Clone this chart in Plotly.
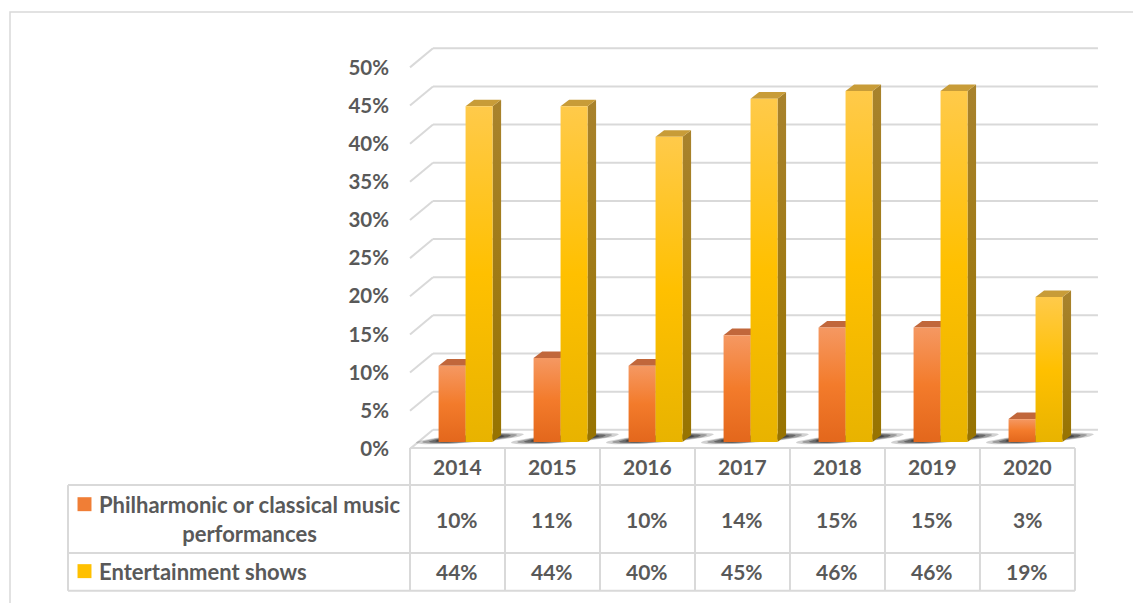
import numpy as np
import plotly.graph_objects as go

# ---- data -------------------------------------------------------------
years = ["2014", "2015", "2016", "2017", "2018", "2019", "2020"]
classical = [10, 11, 10, 14, 15, 15, 3]          # % Philharmonic or classical music performances
entertainment = [44, 44, 40, 45, 46, 46, 19]     # % Entertainment shows
series_labels = ["Philharmonic or classical music<br>performances", "Entertainment shows"]
tick_values = [0, 5, 10, 15, 20, 25, 30, 35, 40, 45, 50]

# ---- canvas / scales ---------------------------------------------------
W, H = 1133, 603
X_RANGE = [-4.816, 7.111]     # category units across the whole canvas
Y_RANGE = [-21.10, 57.93]     # percentage points across the whole canvas

# pseudo-3D geometry (x in category units, y in percentage points)
FRONT_DROP = 0.9      # front edge of the floor lies this far below the bar plane
BACK_RISE = 1.6       # back wall lies this far above the bar plane
WALL_DX = 0.242       # horizontal shift from front edge to back wall
BAR_SHIFT = 0.085     # bar plane offset to the right of the front edge
BAR_W = 0.284
BAR_DX = 0.09         # bar depth, horizontal
BAR_DY = 0.87         # bar depth, vertical

TEXT = "#595959"
GRID = "#D9D9D9"
FONT = "Lato"

styles = [
    dict(front=[[0, "#E3671C"], [0.5, "#F37B2B"], [1, "#F59862"]],
         top="#C1673B", side=[[0, "#A4551A"], [1, "#B0663A"]], key="#F07E36"),
    dict(front=[[0, "#E8B300"], [0.5, "#FFC000"], [1, "#FFCA4A"]],
         top="#C89C38", side=[[0, "#977300"], [1, "#A8822C"]], key="#FFC000"),
]

fig = go.Figure()


def poly(xs, ys, **kw):
    fig.add_trace(go.Scatter(x=list(xs) + [xs[0]], y=list(ys) + [ys[0]], mode="lines",
                             fill="toself", line=dict(width=0), hoverinfo="skip",
                             showlegend=False, **kw))


# back wall grid lines with the diagonal side edges
for v in tick_values:
    fig.add_shape(type="line", xref="x", yref="y",
                  x0=-0.5, y0=v - FRONT_DROP, x1=-0.5 + WALL_DX, y1=v + BACK_RISE,
                  line=dict(color=GRID, width=2), layer="below")
    fig.add_shape(type="line", xref="x", yref="y",
                  x0=-0.5 + WALL_DX, y0=v + BACK_RISE, x1=6.5 + WALL_DX, y1=v + BACK_RISE,
                  line=dict(color=GRID, width=2), layer="below")

# soft floor shadows under each pair of columns
t = np.linspace(0, 2 * np.pi, 48)
for i in range(len(years)):
    left = i + BAR_SHIFT - BAR_W - 0.24
    right = i + BAR_SHIFT + BAR_W + BAR_DX + 0.24
    cx, cy = (left + right) / 2, 0.45
    a = (right - left) / 2
    for scale, alpha in [(1.0, 0.22), (0.88, 0.32), (0.76, 0.45), (0.64, 0.6)]:
        ex = cx + a * scale * np.cos(t)
        ey = cy + np.cos(t) * 0.6 * BAR_DY * scale + 0.55 * scale * np.sin(t)
        poly(ex, ey, fillcolor=f"rgba(45,45,45,{alpha})")

# columns: side, top and front faces
for i in range(len(years)):
    for s, vals in enumerate([classical, entertainment]):
        v = vals[i]
        st = styles[s]
        x0 = i + BAR_SHIFT + (s - 1) * BAR_W
        x1 = x0 + BAR_W
        poly([x1, x1, x1 + BAR_DX, x1 + BAR_DX], [0, v, v + BAR_DY, BAR_DY],
             fillgradient=dict(type="vertical", colorscale=st["side"], start=0, stop=v))
        poly([x0, x1, x1 + BAR_DX, x0 + BAR_DX], [v, v, v + BAR_DY, v + BAR_DY],
             fillcolor=st["top"])
        poly([x0, x1, x1, x0], [0, 0, v, v],
             fillgradient=dict(type="vertical", colorscale=st["front"], start=0, stop=v))

# ---- data table ---------------------------------------------------------
ROW_Y = [-0.8, -5.65, -14.55, -19.5]       # header top, header bottom, row line, table bottom
LEFT_X = -4.1
line_style = dict(color=GRID, width=2)
fig.add_shape(type="line", xref="x", yref="y", x0=-0.5, x1=6.5, y0=ROW_Y[0], y1=ROW_Y[0], line=line_style)
for yv in ROW_Y[1:]:
    fig.add_shape(type="line", xref="x", yref="y", x0=LEFT_X, x1=6.5, y0=yv, y1=yv, line=line_style)
for k in range(len(years) + 1):
    fig.add_shape(type="line", xref="x", yref="y", x0=-0.5 + k, x1=-0.5 + k,
                  y0=ROW_Y[0], y1=ROW_Y[3], line=line_style)
fig.add_shape(type="line", xref="x", yref="y", x0=LEFT_X, x1=LEFT_X,
              y0=ROW_Y[1], y1=ROW_Y[3], line=line_style)

cell_font = dict(family=FONT, size=21, color=TEXT, weight="bold")
label_font = dict(family=FONT, size=22, color=TEXT, weight="bold")
header_y = (ROW_Y[0] + ROW_Y[1]) / 2
row_y = [(ROW_Y[1] + ROW_Y[2]) / 2, (ROW_Y[2] + ROW_Y[3]) / 2]
for i, yr in enumerate(years):
    fig.add_annotation(x=i, y=header_y, xref="x", yref="y", text=yr, showarrow=False, font=cell_font)
    for r, vals in enumerate([classical, entertainment]):
        fig.add_annotation(x=i, y=row_y[r], xref="x", yref="y", text=f"{vals[i]}%",
                           showarrow=False, font=cell_font)

# series labels with colour keys
label_x = -3.8
key_x0, key_w, key_h = -4.0, 0.147, 1.83
key_y = [row_y[0] + 1.95, row_y[1] + 0.1]
for r, lab in enumerate(series_labels):
    fig.add_annotation(x=label_x, y=row_y[r], xref="x", yref="y", text=lab, showarrow=False,
                       font=label_font, align="center", xanchor="left")
    fig.add_shape(type="rect", xref="x", yref="y", x0=key_x0, x1=key_x0 + key_w,
                  y0=key_y[r] - key_h / 2, y1=key_y[r] + key_h / 2,
                  fillcolor=styles[r]["key"], line=dict(width=0))

# outer chart border
fig.add_shape(type="rect", xref="paper", yref="paper", x0=10 / W, y0=-0.05, x1=1.05, y1=1 - 12 / H,
              line=dict(color=GRID, width=1.5), fillcolor="rgba(0,0,0,0)")

fig.update_layout(
    width=W, height=H, margin=dict(l=0, r=0, t=0, b=0),
    paper_bgcolor="white", plot_bgcolor="rgba(0,0,0,0)", showlegend=False,
    xaxis=dict(range=X_RANGE, domain=[0, 1], visible=False, fixedrange=True),
    yaxis=dict(range=Y_RANGE, domain=[0, 1], visible=False, fixedrange=True),
    yaxis2=dict(range=[Y_RANGE[0] + FRONT_DROP, Y_RANGE[1] + FRONT_DROP], overlaying="y",
                anchor="free", position=410 / W, side="left", tickmode="array",
                tickvals=tick_values, ticktext=[f"{v}%" for v in tick_values],
                showgrid=False, zeroline=False, showline=False, ticks="",
                ticklabelstandoff=21, tickfont=dict(family=FONT, size=20.5, color=TEXT, weight="bold"),
                fixedrange=True),
)
# invisible trace on the tick-label axis so that axis is drawn
fig.add_trace(go.Scatter(x=[0], y=[0], yaxis="y2", mode="markers",
                         marker=dict(opacity=0), hoverinfo="skip", showlegend=False))

fig.write_html("out.html")
